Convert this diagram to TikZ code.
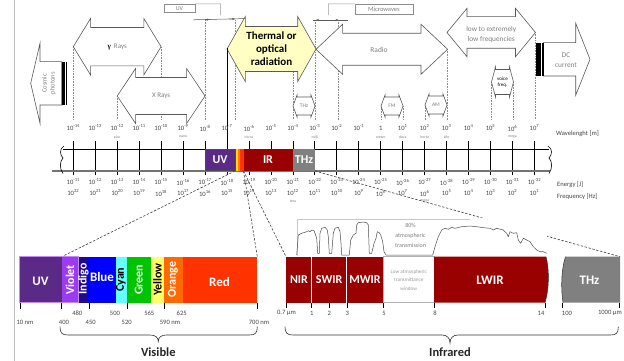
\documentclass[tikz,border=0pt]{standalone}
\usepackage{fontspec}
\setmainfont{Carlito}
\newfontfamily\greekserif{Liberation Serif}
\usetikzlibrary{arrows.meta}

\definecolor{outline}{HTML}{595959}
\definecolor{softtext}{HTML}{808080}
\definecolor{numtext}{HTML}{454545}
\definecolor{uvband}{HTML}{5A2A86}
\definecolor{irband}{HTML}{990000}
\definecolor{thzband}{HTML}{808080}
\definecolor{thermalfill}{HTML}{FFFFC4}
\definecolor{violetband}{HTML}{9B3CF0}
\definecolor{indigoband}{HTML}{1E0A8C}
\definecolor{blueband}{HTML}{0000FF}
\definecolor{cyanband}{HTML}{66FFFF}
\definecolor{greenband}{HTML}{00C400}
\definecolor{yellowband}{HTML}{FFFF66}
\definecolor{orangeband}{HTML}{FF6A00}
\definecolor{redband}{HTML}{FF3300}

\tikzset{
  % double-headed block arrow: total width, head length, head half height, body half height
  pics/dblarrow/.style n args={4}{code={
    \draw[pic actions] (-#1/2,0) -- (-#1/2+#2,-#3) -- (-#1/2+#2,-#4) -- (#1/2-#2,-#4)
      -- (#1/2-#2,-#3) -- (#1/2,0) -- (#1/2-#2,#3) -- (#1/2-#2,#4)
      -- (-#1/2+#2,#4) -- (-#1/2+#2,#3) -- cycle;
  }},
}

\begin{document}
\begin{tikzpicture}[x=1pt,y=-1pt,
  guide/.style={draw=black!45, dash pattern=on 0.6pt off 1pt, line width=0.4pt},
  blockarrow/.style={draw=outline, fill=white, line width=0.6pt},
  softlabel/.style={text=softtext, font=\fontsize{7}{8.5}\selectfont, align=center, inner sep=0pt},
  ticklabel/.style={text=numtext, font=\fontsize{6.6}{7}\selectfont, inner sep=0pt},
  unitprefix/.style={text=softtext, font=\fontsize{3.8}{4}\selectfont, inner sep=0pt},
  bandtext/.style={text=white, font=\fontsize{12}{12}\selectfont\bfseries, inner sep=0pt},
  bandrot/.style={font=\fontsize{12}{12}\selectfont\bfseries, inner sep=0pt, rotate=90},
  zoomline/.style={draw=black!75, dash pattern=on 2.4pt off 1.6pt, line width=0.6pt},
  scaletick/.style={line width=0.8pt, draw=black},
  paneltick/.style={line width=0.6pt, draw=black},
  spanline/.style={draw=outline, line width=0.5pt},
  spanmark/.style={draw=outline, line width=0.4pt, -{Stealth[length=3pt,width=2.2pt]}},
  bracket/.style={draw=black!40, line width=0.5pt},
]
\useasboundingbox (0,0) rectangle (624,361);
\fill[white] (0,0) rectangle (624,361);

% page edge
\draw[black!25, line width=0.5pt] (14.5,0) -- (14.5,361);

% dotted guide lines down to the wavelength scale
\foreach \gx/\gy in {73.3/47, 117.2/96, 161.1/47, 205/20, 235/20, 293/72, 315/20,
                     338.3/20, 381/106, 403/106, 425/105, 447/49, 491.5/82, 513.5/82, 535.5/32}
  \draw[guide] (\gx,\gy) -- (\gx,120);

% ---------- block arrows ----------
% cosmic photons
\draw[blockarrow] (30.7,83.3) -- (40,43.3) -- (40,61.7) -- (61.7,61.7) -- (61.7,105)
  -- (40,105) -- (40,123.3) -- cycle;
\fill[black] (61.7,61.7) rectangle (63.6,105);
\fill[black] (64.3,61.7) rectangle (65.3,105);
\fill[black] (66,61.7) rectangle (66.8,105);
\node[softlabel, rotate=90, font=\fontsize{6.5}{8}\selectfont] (cosmic) at (49,83.3) {Cosmic\\photons};

% gamma and X rays
\pic[blockarrow] at (117.2,46.7) {dblarrow={87.8}{17.3}{28.3}{19.2}};
\node[softlabel] (gamma) at (117.2,46.7) {{\color{black}\greekserif\bfseries γ}\ \ Rays};
\pic[blockarrow] at (161.1,96) {dblarrow={87.8}{18.4}{27.5}{18.5}};
\node[softlabel] (xrays) at (161.1,96) {X Rays};

% radio
\pic[blockarrow] at (381.8,49.3) {dblarrow={131.6}{26.6}{25}{16}};
\node[softlabel, font=\fontsize{7.5}{9}\selectfont] (radio) at (379,50) {Radio};

% thermal / optical radiation
\pic[draw=outline, fill=thermalfill, line width=0.6pt] at (271.5,49) {dblarrow={89}{18.3}{32.5}{22.5}};
\node[font=\fontsize{11}{13}\selectfont\bfseries, align=center, inner sep=0pt] (thermal)
  at (271.5,48.5) {Thermal or\\optical\\radiation};

% low frequencies
\pic[blockarrow] at (491.25,32.5) {dblarrow={88.5}{20}{24.2}{15.8}};
\node[softlabel, font=\fontsize{7.3}{10.5}\selectfont] (lowfreq) at (491.25,34.5) {low to extremely\\low frequencies};

% DC current
\draw[blockarrow] (543.5,42.7) -- (575.7,42.7) -- (575.7,23.3) -- (590,59.3) -- (575.7,95.3)
  -- (575.7,76) -- (543.5,76) -- cycle;
\fill[black] (536,42.7) rectangle (538.6,76);
\fill[black] (539.3,42.7) rectangle (540.9,76);
\fill[black] (541.7,42.7) rectangle (543.5,76);
\node[softlabel, font=\fontsize{7.3}{10}\selectfont] (dc) at (566,60) {DC\\current};

% small band arrows
\pic[blockarrow] at (304,106) {dblarrow={22}{4}{11}{9}};
\node[softlabel, font=\fontsize{5.5}{6}\selectfont] (thzsmall) at (304,106) {THz};
\pic[blockarrow] at (392,106) {dblarrow={22}{4}{11}{9}};
\node[softlabel, font=\fontsize{5.5}{6}\selectfont] (fm) at (392,106) {FM};
\pic[blockarrow] at (436,105) {dblarrow={22}{4}{11}{9}};
\node[softlabel, font=\fontsize{5.5}{6}\selectfont] (am) at (436,105) {AM};
\pic[blockarrow] at (502.5,82) {dblarrow={22}{4}{15}{12.5}};
\node[align=center, inner sep=0pt, font=\fontsize{5}{6.5}\selectfont] (voice) at (502.5,82) {voice\\freq.};

% ---------- UV and microwave spans ----------
\node[draw=black!45, text=softtext, font=\fontsize{6}{6}\selectfont, minimum width=31pt,
      minimum height=8.7pt, inner sep=0pt] (uvbox) at (179.5,8.35) {UV};
\draw[bracket] (uvbox.north east) -- (220.7,4) -- (220.7,15.3);
\draw[spanline] (193,19.8) -- (245,18.6);
\draw[spanmark] (211,19.6) -- (205,19.7);
\draw[spanmark] (229,19.1) -- (235,19);

\node[draw=black!45, text=softtext, font=\fontsize{6.5}{6.5}\selectfont, minimum width=57.7pt,
      minimum height=10pt, inner sep=0pt] (mwbox) at (383.85,9) {Microwaves};
\draw[bracket] (mwbox.north west) -- (328.3,4) -- (328.3,15);
\draw[spanline] (313.3,20) -- (348.3,20);
\draw[spanmark] (322,20) -- (316,20);
\draw[spanmark] (332.5,20) -- (338.5,20);

% ---------- main scale ----------
\foreach \i in {0,...,21} {
  \pgfmathsetmacro\tx{73.3+21.96*\i}
  \draw[scaletick] (\tx,141) -- (\tx,175);
}
% the 10^-7 m tick runs up to the optical arrow
\draw[scaletick] (227.02,48) -- (227.02,171);

\draw[black, line width=0.7pt] (63,149) -- (549,149);
\draw[black!55, line width=1.3pt] (51.5,171) -- (550,171);
\draw[black, line width=0.6pt] (64,146) .. controls (59,149) and (60,155) .. (63,158)
  .. controls (60,161) and (59,168) .. (63,173.5);
\draw[black, line width=0.6pt] (548,146) .. controls (553,149) and (552,155) .. (549,158)
  .. controls (552,161) and (553,168) .. (549,173.5);

% coloured bands on the scale
\filldraw[fill=uvband, draw=black!70, line width=0.4pt] (205,149) rectangle (234.8,170.5);
\fill[blue!70!cyan] (234.8,149) rectangle (236.2,170.5);
\fill[yellow!80!orange] (236.2,149) rectangle (237.6,170.5);
\fill[orange] (237.6,149) rectangle (240,170.5);
\fill[redband] (240,149) rectangle (243.5,170.5);
\fill[irband] (243.5,149) rectangle (293,170.5);
\fill[thzband] (293,149) rectangle (315,170.5);
\node[bandtext] (uvbar) at (220,160) {UV};
\node[bandtext] (irbar) at (268,160) {IR};
\node[bandtext] (thzbar) at (304,160) {THz};

% scale labels
\foreach \i in {0,...,21} {
  \pgfmathsetmacro\tx{73.3+21.96*\i}
  \pgfmathtruncatemacro\wl{\i-14}
  \pgfmathtruncatemacro\en{-11-\i}
  \pgfmathtruncatemacro\fr{22-\i}
  \ifnum\wl=0
    \node[ticklabel] (wl\i) at (\tx,128) {1};
  \else
    \node[ticklabel] (wl\i) at (\tx,128) {10\textsuperscript{\wl}};
  \fi
  \node[ticklabel] (en\i) at (\tx,182) {10\textsuperscript{\en}};
  \node[ticklabel] (fr\i) at (\tx,193) {10\textsuperscript{\fr}};
}
\foreach \i/\p in {2/pico,5/nano,8/micro,11/milli,14/meter,15/deca,16/hecto,17/kilo,20/mega} {
  \pgfmathsetmacro\tx{73.3+21.96*\i}
  \node[unitprefix] (wp\i) at (\tx,137) {\p};
}
\foreach \i/\p in {10/tera,16/mega} {
  \pgfmathsetmacro\tx{73.3+21.96*\i}
  \node[unitprefix] (fp\i) at (\tx,201) {\p};
}
\node[ticklabel, anchor=west] (wlname) at (556,134) {Wavelenght [m]};
\node[ticklabel, anchor=west] (enname) at (557,185) {Energy [J]};
\node[ticklabel, anchor=west] (frname) at (557,196.5) {Frequency [Hz]};

% ---------- zoom lines ----------
\coordinate (visbarL) at (235,171);
\coordinate (visbarR) at (243.5,171);
\coordinate (thzbarR) at (315,171);
\coordinate (violetTL) at (61.7,256.7);
\coordinate (redTR) at (257.3,256.7);
\coordinate (nirTL) at (286,256.7);
\coordinate (thzTR) at (620,256.7);
\draw[zoomline] (visbarL) -- (violetTL);
\draw[zoomline] (visbarR) -- (redTR);
\draw[zoomline] (visbarR) -- (nirTL);
\draw[zoomline] (thzbarR) -- (thzTR);

% ---------- visible spectrum ----------
\foreach \c/\xa/\xb in {uvband/19.3/61.7, violetband/61.7/78.3, indigoband/78.3/88.3,
    blueband/88.3/115.7, cyanband/115.7/127, greenband/127/150.7, yellowband/150.7/164.3,
    orangeband/164.3/182.7, redband/182.7/257.3}
  \fill[\c] (\xa,256.7) rectangle (\xb,302.7);
\draw[violetband!60!white, line width=0.5pt] (19.3,256.7) rectangle (78.3,302.7);

\node[bandtext, font=\fontsize{13}{13}\selectfont\bfseries] (uvvis) at (40.5,281) {UV};
\node[bandrot, text=white] (violet) at (70,279.7) {Violet};
\node[bandrot, text=white] (indigo) at (83.5,279) {Indigo};
\node[bandtext, font=\fontsize{13}{13}\selectfont\bfseries] (blue) at (102,277) {Blue};
\node[bandrot, text=black] (cyan) at (121,279.7) {Cyan};
\node[bandrot, text=white] (green) at (138.8,279.7) {Green};
\node[bandrot, text=black] (yellow) at (157.5,279.7) {Yellow};
\node[bandrot, text=white] (orange) at (173,279.7) {Orange};
\node[bandtext, font=\fontsize{13}{13}\selectfont\bfseries] (red) at (219.5,282) {Red};

\foreach \x in {20,61.7,89,127,164.3,257.3}
  \draw[paneltick] (\x,302.7) -- (\x,308.5);
\foreach \x/\t in {77.3/480,115/500,149.3/565,181.7/625}
  \node[ticklabel] (vt\t) at (\x,313.3) {\t};
\node[ticklabel] (v10) at (25,322.7) {10 nm};
\node[ticklabel] (v400) at (64,322.7) {400};
\node[ticklabel] (v450) at (90.7,322.7) {450};
\node[ticklabel] (v520) at (126.7,322.7) {520};
\node[ticklabel] (v590) at (170,322.7) {590 nm};
\node[ticklabel] (v700) at (259,322.7) {700 nm};

\draw[black!80, line width=0.6pt] (60,326.7) .. controls (60,333) and (62,335) .. (68,335)
  -- (150,335) .. controls (155,335) and (158.3,337) .. (158.3,341.5)
  .. controls (158.3,337) and (161.6,335) .. (166.6,335) -- (249.3,335)
  .. controls (255.3,335) and (257.3,333) .. (257.3,326.7);
\node[font=\fontsize{12.5}{12.5}\selectfont\bfseries, text=black!85, inner sep=0pt] (visible) at (158.3,351.7) {Visible};

% ---------- infrared ----------
% atmospheric transmission curve
\fill[white] (296.7,218) rectangle (547,256);
\draw[black!22, line width=0.4pt] (296.7,256) -- (296.7,219.3) -- (470,219.3);
\draw[black!70, line width=0.5pt, line join=round] (296.7,255) -- (298.3,235) -- (301.7,233.3)
  -- (306.7,231.7) -- (308.3,230.7) -- (310,231.7) -- (311.7,230) -- (314,230.7) -- (315,233.3)
  -- (316.7,238.3) -- (317.7,253.3) -- (319.3,253.3) -- (320,233.3) -- (321.7,228.3)
  -- (325,227.3) -- (327.3,230) -- (328.3,236.7) -- (329.3,253.3) -- (331.7,253.3)
  -- (333.3,233.3) -- (335,228.3) -- (338.3,227.3) -- (340,231.7) -- (341,243.3)
  -- (341.7,255) -- (349.3,255) -- (350.7,240) -- (353.3,235) -- (356,233.3) -- (356.7,225)
  -- (358.3,222.7) -- (363.3,222) -- (366.7,222.7) -- (368.3,225) -- (369.3,253.3)
  -- (371.7,253.3) -- (374,243.3) -- (376,238.3) -- (377.3,231.7) -- (379.3,232.7)
  -- (380.7,235) -- (382.7,241.7) -- (384,251.7) -- (386,255) -- (432.7,255) -- (435,246.7)
  -- (438.3,236.7) -- (441.7,230) -- (445,228.3) -- (448.3,229.3) -- (451.7,227.3)
  -- (455,228.3) -- (461.7,226.7) -- (470,226) -- (476.7,226.7) -- (483.3,227.7)
  -- (490,228.3) -- (493.3,230) -- (496.7,228.3) -- (503.3,230) -- (506.7,233.3)
  -- (508.3,236.7) -- (510,231.7) -- (513.3,233.3) -- (516.7,232.7) -- (518.3,240)
  -- (520.7,243.3) -- (523.3,238.3) -- (526.7,240) -- (530,241.7) -- (533.3,246.7)
  -- (536.7,250) -- (540,251.7) -- (543.3,251.7) -- (546.7,253.3);
\node[softlabel, font=\fontsize{6}{10}\selectfont] (transm) at (410.5,235) {80\%\\atmospheric\\transmission};

% bands
\fill[irband] (286,256.7) rectangle (383.3,302.7);
\draw[white, line width=0.8pt] (311.7,256.7) -- (311.7,302.7);
\draw[white, line width=0.8pt] (346.7,256.7) -- (346.7,302.7);
\draw[black!30, fill=white, line width=0.5pt] (383.3,256.7) rectangle (434,302.7);
\fill[irband] (434,256.7) -- (546,256.7) .. controls (549.5,270) and (549,290) .. (545,302.7)
  -- (434,302.7) -- cycle;
\draw[black!80, line width=0.5pt] (546,256.7) .. controls (549.5,270) and (549,290) .. (545,302.7);
\fill[thzband] (565.5,256.7) .. controls (561,270) and (561,290) .. (563,302.7) -- (620,302.7)
  -- (620,256.7) -- cycle;
\draw[black!80, line width=0.5pt] (565.5,256.7) .. controls (561,270) and (561,290) .. (563,302.7);

\node[bandtext] (nir) at (299,280) {NIR};
\node[bandtext] (swir) at (329.2,280) {SWIR};
\node[bandtext] (mwir) at (365,280) {MWIR};
\node[softlabel, font=\fontsize{5.2}{8.3}\selectfont, text=black!40] (lowwin) at (408.7,280)
  {Low atmospheric\\transmittance\\window};
\node[bandtext, font=\fontsize{13}{13}\selectfont\bfseries] (lwir) at (490,280) {LWIR};
\node[bandtext, font=\fontsize{13}{13}\selectfont\bfseries] (thzir) at (589.5,280) {THz};

\foreach \x in {286,311.7,329.3,347.3,383.3,434,545,562.7,619.3}
  \draw[paneltick] (\x,302.7) -- (\x,307.5);
\node[ticklabel] (i07) at (286.5,313.3) {0.7 µm};
\node[ticklabel] (i1) at (311.7,313.3) {1};
\node[ticklabel] (i2) at (329.3,313.3) {2};
\node[ticklabel] (i3) at (347.3,313.3) {3};
\node[ticklabel] (i5) at (384,313.3) {5};
\node[ticklabel] (i8) at (435,313.3) {8};
\node[ticklabel] (i14) at (541,313.3) {14};
\node[ticklabel] (i100) at (567,313.3) {100};
\node[ticklabel, anchor=east] (i1000) at (622,313.3) {1000 µm};

\draw[black!80, line width=0.6pt] (285,326.7) .. controls (285,333) and (287,335) .. (293,335)
  -- (442,335) .. controls (447,335) and (450,338) .. (450,343)
  .. controls (450,338) and (453,335) .. (458,335) -- (610.3,335)
  .. controls (616.3,335) and (618.3,333) .. (618.3,326.7);
\node[font=\fontsize{12.5}{12.5}\selectfont\bfseries, text=black!85, inner sep=0pt] (infrared) at (450,351.7) {Infrared};
\end{tikzpicture}
\end{document}
